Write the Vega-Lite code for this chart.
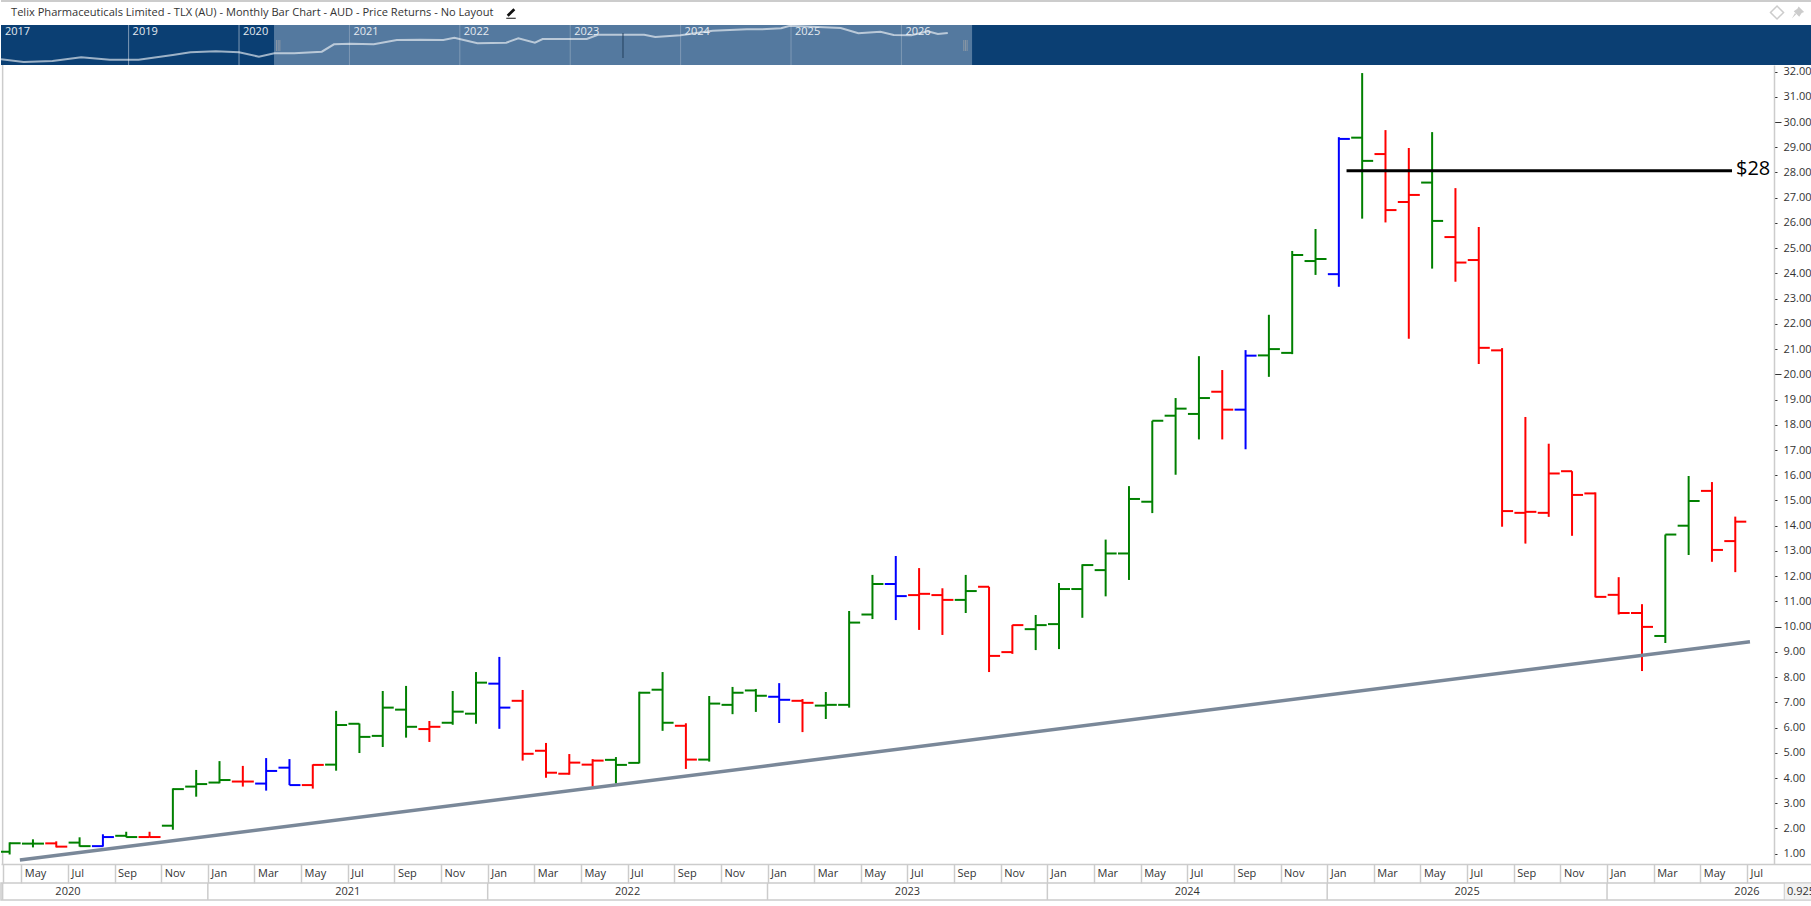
{
  "$schema": "https://vega.github.io/schema/vega-lite/v6.json",
  "padding": 0,
  "spacing": 0,
  "bounds": "flush",
  "background": "white",
  "autosize": {"type": "pad"},
  "config": {"view": {"stroke": null}, "concat": {"spacing": 0}, "axis": {"labelOverlap": false}},
  "datasets": {
    "bars": [
      {"t":3.5,"month":"2020-04","open":1.08,"high":1.45,"low":0.97,"close":1.41,"signal":"up"},
      {"t":4.5,"month":"2020-05","open":1.40,"high":1.57,"low":1.25,"close":1.40,"signal":"up"},
      {"t":5.5,"month":"2020-06","open":1.41,"high":1.49,"low":1.25,"close":1.28,"signal":"down"},
      {"t":6.5,"month":"2020-07","open":1.44,"high":1.65,"low":1.28,"close":1.30,"signal":"up"},
      {"t":7.5,"month":"2020-08","open":1.30,"high":1.77,"low":1.28,"close":1.66,"signal":"neutral"},
      {"t":8.5,"month":"2020-09","open":1.71,"high":1.87,"low":1.65,"close":1.66,"signal":"up"},
      {"t":9.5,"month":"2020-10","open":1.66,"high":1.87,"low":1.65,"close":1.66,"signal":"down"},
      {"t":10.5,"month":"2020-11","open":2.11,"high":3.59,"low":1.95,"close":3.56,"signal":"up"},
      {"t":11.5,"month":"2020-12","open":3.66,"high":4.32,"low":3.26,"close":3.76,"signal":"up"},
      {"t":12.5,"month":"2021-01","open":3.82,"high":4.67,"low":3.79,"close":3.92,"signal":"up"},
      {"t":13.5,"month":"2021-02","open":3.86,"high":4.48,"low":3.66,"close":3.86,"signal":"down"},
      {"t":14.5,"month":"2021-03","open":3.78,"high":4.79,"low":3.50,"close":4.28,"signal":"neutral"},
      {"t":15.5,"month":"2021-04","open":4.41,"high":4.75,"low":3.72,"close":3.72,"signal":"neutral"},
      {"t":16.5,"month":"2021-05","open":3.72,"high":4.54,"low":3.58,"close":4.52,"signal":"down"},
      {"t":17.5,"month":"2021-06","open":4.53,"high":6.66,"low":4.29,"close":6.10,"signal":"up"},
      {"t":18.5,"month":"2021-07","open":6.15,"high":6.16,"low":4.99,"close":5.63,"signal":"up"},
      {"t":19.5,"month":"2021-08","open":5.67,"high":7.45,"low":5.23,"close":6.79,"signal":"up"},
      {"t":20.5,"month":"2021-09","open":6.71,"high":7.65,"low":5.60,"close":6.03,"signal":"up"},
      {"t":21.5,"month":"2021-10","open":5.94,"high":6.26,"low":5.43,"close":6.03,"signal":"down"},
      {"t":22.5,"month":"2021-11","open":6.19,"high":7.45,"low":6.11,"close":6.63,"signal":"up"},
      {"t":23.5,"month":"2021-12","open":6.55,"high":8.20,"low":6.15,"close":7.78,"signal":"up"},
      {"t":24.5,"month":"2022-01","open":7.74,"high":8.80,"low":5.95,"close":6.79,"signal":"neutral"},
      {"t":25.5,"month":"2022-02","open":7.06,"high":7.49,"low":4.69,"close":4.96,"signal":"down"},
      {"t":26.5,"month":"2022-03","open":5.08,"high":5.39,"low":4.01,"close":4.21,"signal":"down"},
      {"t":27.5,"month":"2022-04","open":4.17,"high":4.95,"low":4.13,"close":4.61,"signal":"down"},
      {"t":28.5,"month":"2022-05","open":4.53,"high":4.75,"low":3.66,"close":4.69,"signal":"down"},
      {"t":29.5,"month":"2022-06","open":4.72,"high":4.83,"low":3.78,"close":4.52,"signal":"up"},
      {"t":30.5,"month":"2022-07","open":4.60,"high":7.42,"low":4.58,"close":7.38,"signal":"up"},
      {"t":31.5,"month":"2022-08","open":7.50,"high":8.20,"low":5.87,"close":6.19,"signal":"up"},
      {"t":32.5,"month":"2022-09","open":6.07,"high":6.17,"low":4.36,"close":4.73,"signal":"down"},
      {"t":33.5,"month":"2022-10","open":4.73,"high":7.25,"low":4.65,"close":6.95,"signal":"up"},
      {"t":34.5,"month":"2022-11","open":6.90,"high":7.61,"low":6.53,"close":7.38,"signal":"up"},
      {"t":35.5,"month":"2022-12","open":7.47,"high":7.53,"low":6.62,"close":7.26,"signal":"up"},
      {"t":36.5,"month":"2023-01","open":7.22,"high":7.76,"low":6.18,"close":7.10,"signal":"neutral"},
      {"t":37.5,"month":"2023-02","open":7.06,"high":7.13,"low":5.82,"close":6.98,"signal":"down"},
      {"t":38.5,"month":"2023-03","open":6.87,"high":7.41,"low":6.34,"close":6.90,"signal":"up"},
      {"t":39.5,"month":"2023-04","open":6.90,"high":10.62,"low":6.79,"close":10.16,"signal":"up"},
      {"t":40.5,"month":"2023-05","open":10.48,"high":12.05,"low":10.30,"close":11.69,"signal":"up"},
      {"t":41.5,"month":"2023-06","open":11.69,"high":12.80,"low":10.26,"close":11.21,"signal":"neutral"},
      {"t":42.5,"month":"2023-07","open":11.25,"high":12.32,"low":9.87,"close":11.30,"signal":"down"},
      {"t":43.5,"month":"2023-08","open":11.25,"high":11.52,"low":9.67,"close":11.06,"signal":"down"},
      {"t":44.5,"month":"2023-09","open":11.06,"high":12.05,"low":10.54,"close":11.41,"signal":"up"},
      {"t":45.5,"month":"2023-10","open":11.58,"high":11.58,"low":8.20,"close":8.84,"signal":"down"},
      {"t":46.5,"month":"2023-11","open":8.99,"high":10.07,"low":8.92,"close":10.06,"signal":"down"},
      {"t":47.5,"month":"2023-12","open":9.90,"high":10.46,"low":9.07,"close":10.06,"signal":"up"},
      {"t":48.5,"month":"2024-01","open":10.10,"high":11.73,"low":9.11,"close":11.49,"signal":"up"},
      {"t":49.5,"month":"2024-02","open":11.49,"high":12.47,"low":10.35,"close":12.44,"signal":"up"},
      {"t":50.5,"month":"2024-03","open":12.24,"high":13.45,"low":11.20,"close":12.90,"signal":"up"},
      {"t":51.5,"month":"2024-04","open":12.90,"high":15.57,"low":11.85,"close":15.06,"signal":"up"},
      {"t":52.5,"month":"2024-05","open":14.95,"high":18.16,"low":14.50,"close":18.16,"signal":"up"},
      {"t":53.5,"month":"2024-06","open":18.36,"high":19.06,"low":16.02,"close":18.64,"signal":"up"},
      {"t":54.5,"month":"2024-07","open":18.43,"high":20.72,"low":17.42,"close":19.06,"signal":"up"},
      {"t":55.5,"month":"2024-08","open":19.31,"high":20.17,"low":17.42,"close":18.60,"signal":"down"},
      {"t":56.5,"month":"2024-09","open":18.60,"high":20.96,"low":17.03,"close":20.74,"signal":"neutral"},
      {"t":57.5,"month":"2024-10","open":20.75,"high":22.36,"low":19.90,"close":21.00,"signal":"up"},
      {"t":58.5,"month":"2024-11","open":20.85,"high":24.89,"low":20.80,"close":24.73,"signal":"up"},
      {"t":59.5,"month":"2024-12","open":24.49,"high":25.76,"low":23.94,"close":24.57,"signal":"up"},
      {"t":60.5,"month":"2025-01","open":23.97,"high":29.40,"low":23.47,"close":29.33,"signal":"neutral"},
      {"t":61.5,"month":"2025-02","open":29.38,"high":31.94,"low":26.17,"close":28.46,"signal":"up"},
      {"t":62.5,"month":"2025-03","open":28.73,"high":29.68,"low":26.02,"close":26.51,"signal":"down"},
      {"t":63.5,"month":"2025-04","open":26.83,"high":28.97,"low":21.41,"close":27.11,"signal":"down"},
      {"t":64.5,"month":"2025-05","open":27.60,"high":29.60,"low":24.19,"close":26.08,"signal":"up"},
      {"t":65.5,"month":"2025-06","open":25.44,"high":27.38,"low":23.67,"close":24.43,"signal":"down"},
      {"t":66.5,"month":"2025-07","open":24.53,"high":25.84,"low":20.41,"close":21.05,"signal":"down"},
      {"t":67.5,"month":"2025-08","open":20.95,"high":21.04,"low":13.96,"close":14.58,"signal":"down"},
      {"t":68.5,"month":"2025-09","open":14.51,"high":18.31,"low":13.29,"close":14.55,"signal":"down"},
      {"t":69.5,"month":"2025-10","open":14.51,"high":17.25,"low":14.35,"close":16.07,"signal":"down"},
      {"t":70.5,"month":"2025-11","open":16.16,"high":16.16,"low":13.60,"close":15.22,"signal":"down"},
      {"t":71.5,"month":"2025-12","open":15.28,"high":15.32,"low":11.16,"close":11.18,"signal":"down"},
      {"t":72.5,"month":"2026-01","open":11.26,"high":11.96,"low":10.48,"close":10.54,"signal":"down"},
      {"t":73.5,"month":"2026-02","open":10.54,"high":10.89,"low":8.24,"close":9.99,"signal":"down"},
      {"t":74.5,"month":"2026-03","open":9.63,"high":13.65,"low":9.35,"close":13.65,"signal":"up"},
      {"t":75.5,"month":"2026-04","open":14.00,"high":15.97,"low":12.84,"close":14.98,"signal":"up"},
      {"t":76.5,"month":"2026-05","open":15.38,"high":15.73,"low":12.57,"close":13.04,"signal":"down"},
      {"t":77.5,"month":"2026-06","open":13.39,"high":14.36,"low":12.16,"close":14.16,"signal":"down"}
    ],
    "trend": [{"t":3.94,"price":0.75},{"t":78.13,"price":9.40}],
    "level28": [{"t":60.83,"price":28.07},{"t":77.36,"price":28.07}],
    "level28label": [{"t":77.53,"price":28.14,"label":"$28"}],
    "navLine": [
      {"year":2017.844,"level":5.7},{"year":2018.05,"level":3},{"year":2018.31,"level":4},{"year":2018.57,"level":7.7},
      {"year":2018.83,"level":5.3},{"year":2019.09,"level":5.3},{"year":2019.40,"level":10},{"year":2019.56,"level":12.7},
      {"year":2019.79,"level":13.7},{"year":2020.0,"level":12.7},{"year":2020.18,"level":8.3},{"year":2020.32,"level":11.7},
      {"year":2020.50,"level":11.7},{"year":2020.75,"level":13.3},{"year":2020.86,"level":20.7},{"year":2021.01,"level":21.3},
      {"year":2021.22,"level":20.7},{"year":2021.43,"level":25},{"year":2021.64,"level":25.3},{"year":2021.85,"level":25},
      {"year":2021.95,"level":27.3},{"year":2022.16,"level":21.7},{"year":2022.42,"level":22.3},{"year":2022.53,"level":26.7},
      {"year":2022.68,"level":22.3},{"year":2022.75,"level":26},{"year":2023.15,"level":26},{"year":2023.25,"level":30.3},
      {"year":2023.67,"level":30.3},{"year":2023.77,"level":28},{"year":2024.0,"level":29.7},{"year":2024.29,"level":34.3},
      {"year":2024.60,"level":35.7},{"year":2024.73,"level":35.7},{"year":2024.91,"level":36.7},{"year":2024.99,"level":39.2},
      {"year":2025.45,"level":37},{"year":2025.61,"level":31.7},{"year":2025.81,"level":33.3},{"year":2025.93,"level":30},
      {"year":2026.09,"level":29.7},{"year":2026.24,"level":33.7},{"year":2026.33,"level":31},{"year":2026.42,"level":32}
    ],
    "navYears": [
      {"year":2019,"label":"2019"},{"year":2020,"label":"2020"},{"year":2021,"label":"2021"},{"year":2022,"label":"2022"},
      {"year":2023,"label":"2023"},{"year":2024,"label":"2024"},{"year":2025,"label":"2025"},{"year":2026,"label":"2026"}
    ],
    "navFirst": [{"year":2017.844,"label":"2017"}],
    "navWindow": [{"from":2020.317,"to":2026.64}],
    "navGrips": [
      {"year":2020.34},{"year":2020.355},{"year":2020.37},{"year":2026.565},{"year":2026.58},{"year":2026.595}
    ],
    "years": [
      {"start":12,"mid":18,"label":"2021"},{"start":24,"mid":30,"label":"2022"},{"start":36,"mid":42,"label":"2023"},
      {"start":48,"mid":54,"label":"2024"},{"start":60,"mid":66,"label":"2025"},{"start":72,"mid":78,"label":"2026"},
      {"start":3.2,"mid":6,"label":"2020"}
    ],
    "readout": [{"from":79.6,"to":81,"t":79.72,"label":"0.925"}]
  },
  "vconcat": [
    {
      "width": 1811,
      "height": 25,
      "layer": [
        {
          "data": {"values": [{"t":3.56,"text":"Telix Pharmaceuticals Limited - TLX (AU) - Monthly Bar Chart - AUD - Price Returns - No Layout"}]},
          "mark": {"type":"text","align":"left","baseline":"middle","font":"Open Sans","fontSize":11.1,"color":"#333333","clip":true},
          "encoding": {
            "x": {"field":"t","type":"quantitative","scale":{"domain":[3.13,80.79],"nice":false,"zero":false},"axis":null},
            "y": {"datum":12,"type":"quantitative","scale":{"domain":[0,25]},"axis":null},
            "text": {"field":"text"}
          }
        },
        {
          "data": {"values": [{"t":3.13},{"t":80.79}]},
          "mark": {"type":"line","color":"#cccccc","strokeWidth":2,"clip":true},
          "encoding": {
            "x": {"field":"t","type":"quantitative","axis":null},
            "y": {"datum":25,"type":"quantitative","axis":null}
          }
        },
        {
          "data": {"values": [{"t":25.0,"icon":"edit"}]},
          "mark": {"type":"point","filled":true,"color":"#111111","opacity":1,"size":90,"clip":true,"shape":"M-0.9,0.5 L0.5,-0.9 L0.9,-0.5 L-0.5,0.9 Z M-1,1.1 L1,1.1 L1,1.3 L-1,1.3 Z"},
          "encoding": {
            "x": {"field":"t","type":"quantitative","axis":null},
            "y": {"datum":13,"type":"quantitative","axis":null}
          }
        },
        {
          "data": {"values": [{"t":79.29,"icon":"layout"}]},
          "mark": {"type":"point","shape":"diamond","filled":false,"color":"#cccccc","opacity":1,"size":170,"strokeWidth":1.5,"clip":true},
          "encoding": {
            "x": {"field":"t","type":"quantitative","axis":null},
            "y": {"datum":13,"type":"quantitative","axis":null}
          }
        },
        {
          "data": {"values": [{"t":80.19,"icon":"pin"}]},
          "mark": {"type":"point","filled":true,"color":"#cccccc","opacity":1,"size":150,"clip":true,"shape":"M0.1,-1 L1,-0.1 L0.6,0.1 L0.2,0.7 L-0.7,-0.2 L-0.1,-0.6 Z M-0.3,0.3 L-1,1 L-0.5,0.1 Z"},
          "encoding": {
            "x": {"field":"t","type":"quantitative","axis":null},
            "y": {"datum":13,"type":"quantitative","axis":null}
          }
        }
      ]
    },
    {
      "width": 1811,
      "height": 40,
      "view": {"fill": "#0b3f73", "stroke": null},
      "layer": [
        {
          "data": {"name": "navWindow"},
          "mark": {"type":"rect","color":"#54799f"},
          "encoding": {
            "x": {"field":"from","type":"quantitative","scale":{"domain":[2017.844,2034.248],"nice":false,"zero":false},"axis":null},
            "x2": {"field":"to"}
          }
        },
        {
          "data": {"name": "navYears"},
          "mark": {"type":"rule","color":"#7f99b5","strokeWidth":1},
          "encoding": {"x": {"field":"year","type":"quantitative","axis":null}}
        },
        {
          "data": {"name": "navLine"},
          "mark": {"type":"line","color":"#ffffff","opacity":0.6,"strokeWidth":2,"clip":true},
          "encoding": {
            "x": {"field":"year","type":"quantitative","axis":null},
            "y": {"field":"level","type":"quantitative","scale":{"domain":[0,40],"nice":false},"axis":null}
          }
        },
        {
          "data": {"name": "navYears"},
          "mark": {"type":"text","align":"left","baseline":"middle","dx":4,"font":"Open Sans","fontSize":11,"color":"#e4eaf0"},
          "encoding": {
            "x": {"field":"year","type":"quantitative","axis":null},
            "y": {"datum":33,"type":"quantitative","axis":null},
            "text": {"field":"label"}
          }
        },
        {
          "data": {"name": "navFirst"},
          "mark": {"type":"text","align":"left","baseline":"middle","dx":4,"font":"Open Sans","fontSize":11,"color":"#e4eaf0"},
          "encoding": {
            "x": {"field":"year","type":"quantitative","axis":null},
            "y": {"datum":33,"type":"quantitative","axis":null},
            "text": {"field":"label"}
          }
        },
        {
          "data": {"name": "navGrips"},
          "mark": {"type":"rule","color":"#8a97a5","strokeWidth":1},
          "encoding": {
            "x": {"field":"year","type":"quantitative","axis":null},
            "y": {"datum":14,"type":"quantitative","axis":null},
            "y2": {"datum":25}
          }
        },
        {
          "data": {"values": [{"year":2023.478}]},
          "mark": {"type":"rule","color":"#24405f","strokeWidth":1},
          "encoding": {
            "x": {"field":"year","type":"quantitative","axis":null},
            "y": {"datum":7,"type":"quantitative","axis":null},
            "y2": {"datum":32}
          }
        }
      ]
    },
    {
      "width": 1811,
      "height": 799,
      "encoding": {
        "x": {
          "field": "t",
          "type": "quantitative",
          "scale": {"domain":[3.13,80.79],"nice":false,"zero":false},
          "axis": {
            "title": null,
            "grid": false,
            "tickCount": 60,
            "values": [3.2,4,6,8,10,12,14,16,18,20,22,24,26,28,30,32,34,36,38,40,42,44,46,48,50,52,54,56,58,60,62,64,66,68,70,72,74,76,78],
            "labelExpr": "datum.value == 3.2 ? '' : ['Jan','Mar','May','Jul','Sep','Nov'][(datum.value % 12) / 2]",
            "domainColor": "#cccccc",
            "domainWidth": 1.5,
            "tickColor": "#cccccc",
            "tickWidth": 1.5,
            "tickSize": 19,
            "labelPadding": -9.5,
            "labelAlign": "left",
            "labelBaseline": "middle",
            "labelOffset": 3,
            "labelBound": false,
            "labelFlush": false,
            "labelFont": "Open Sans",
            "labelFontSize": 11,
            "labelColor": "#333333"
          }
        }
      },
      "layer": [
        {
          "data": {"values": [{"t":3.2}]},
          "mark": {"type":"rule","color":"#cccccc","strokeWidth":1.5}
        },
        {
          "data": {"name": "bars"},
          "mark": {"type":"rule","strokeWidth":2},
          "encoding": {
            "y": {
              "field": "low",
              "type": "quantitative",
              "scale": {"domain":[0.592,32.26],"nice":false,"zero":false},
              "axis": {
                "orient": "right",
                "offset": -38,
                "title": null,
                "grid": false,
                "tickCount": 40,
                "values": [1,2,3,4,5,6,7,8,9,10,11,12,13,14,15,16,17,18,19,20,21,22,23,24,25,26,27,28,29,30,31,32],
                "format": ".2f",
                "domainColor": "#cccccc",
                "domainWidth": 1.5,
                "tickColor": "#333333",
                "tickSize": {"condition": {"test": "datum.value % 10 == 0", "value": 7}, "value": 3},
                "labelPadding": {"condition": {"test": "datum.value % 10 == 0", "value": 2}, "value": 6},
                "labelBound": false,
                "labelFlush": false,
                "labelFont": "Open Sans",
                "labelFontSize": 11,
                "labelColor": "#333333"
              }
            },
            "y2": {"field": "high"},
            "color": {"field":"signal","type":"nominal","scale":{"domain":["up","down","neutral"],"range":["#008000","#ff0000","#0000ff"]},"legend":null}
          }
        },
        {
          "data": {"name": "bars"},
          "mark": {"type":"tick","orient":"horizontal","size":11,"thickness":2,"xOffset":-5.5,"opacity":1,"clip":true},
          "encoding": {
            "y": {"field":"open","type":"quantitative"},
            "color": {"field":"signal","type":"nominal"}
          }
        },
        {
          "data": {"name": "bars"},
          "mark": {"type":"tick","orient":"horizontal","size":11,"thickness":2,"xOffset":5.5,"opacity":1},
          "encoding": {
            "y": {"field":"close","type":"quantitative"},
            "color": {"field":"signal","type":"nominal"}
          }
        },
        {
          "data": {"name": "trend"},
          "mark": {"type":"line","color":"#7a8899","strokeWidth":3.5},
          "encoding": {"y": {"field":"price","type":"quantitative"}}
        },
        {
          "data": {"name": "level28"},
          "mark": {"type":"line","color":"#000000","strokeWidth":3},
          "encoding": {"y": {"field":"price","type":"quantitative"}}
        },
        {
          "data": {"name": "level28label"},
          "mark": {"type":"text","align":"left","baseline":"middle","font":"Open Sans","fontSize":20,"color":"#000000"},
          "encoding": {
            "y": {"field":"price","type":"quantitative"},
            "text": {"field":"label"}
          }
        }
      ]
    },
    {
      "width": 1811,
      "height": 19,
      "data": {"values": []},
      "mark": "rect"
    },
    {
      "width": 1811,
      "height": 17,
      "view": {"stroke": "#cccccc", "strokeWidth": 1.5},
      "layer": [
        {
          "data": {"name": "years"},
          "mark": {"type":"rule","color":"#cccccc","strokeWidth":1.5},
          "encoding": {
            "x": {"field":"start","type":"quantitative","scale":{"domain":[3.13,80.79],"nice":false,"zero":false},"axis":null}
          }
        },
        {
          "data": {"name": "years"},
          "mark": {"type":"text","align":"center","baseline":"middle","font":"Open Sans","fontSize":11,"color":"#333333"},
          "encoding": {
            "x": {"field":"mid","type":"quantitative","axis":null},
            "text": {"field":"label"}
          }
        },
        {
          "data": {"name": "readout"},
          "mark": {"type":"rect","fill":"#f2f2f2","stroke":"#cccccc","clip":true},
          "encoding": {
            "x": {"field":"from","type":"quantitative","axis":null},
            "x2": {"field":"to"}
          }
        },
        {
          "data": {"name": "readout"},
          "mark": {"type":"text","align":"left","baseline":"middle","font":"Open Sans","fontSize":11,"color":"#333333","clip":true},
          "encoding": {
            "x": {"field":"t","type":"quantitative","axis":null},
            "text": {"field":"label"}
          }
        }
      ]
    }
  ]
}
